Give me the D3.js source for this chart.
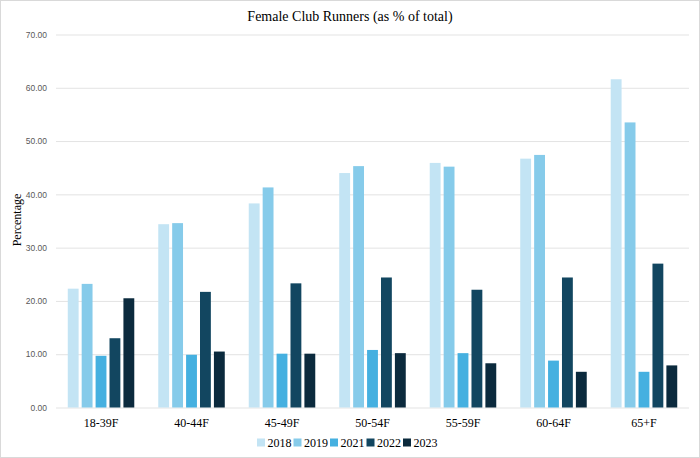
<!DOCTYPE html>
<html>
<head>
<meta charset="utf-8">
<script src="https://cdn.jsdelivr.net/npm/d3@7"></script>
<style>
  body { margin: 0; background: #fff; }
</style>
</head>
<body>
<div id="chart"></div>
<script>
// data
var categories = ["18-39F", "40-44F", "45-49F", "50-54F", "55-59F", "60-64F", "65+F"];
var years = ["2018", "2019", "2021", "2022", "2023"];
var v2018 = [22.3, 34.4, 38.3, 44.0, 45.9, 46.7, 61.6];
var v2019 = [23.2, 34.6, 41.3, 45.3, 45.2, 47.4, 53.5];
var v2021 = [9.7, 9.9, 10.1, 10.8, 10.2, 8.8, 6.7];
var v2022 = [13.0, 21.7, 23.3, 24.4, 22.1, 24.4, 27.0];
var v2023 = [20.5, 10.5, 10.1, 10.2, 8.3, 6.7, 7.9];
var yTicks = [0, 10, 20, 30, 40, 50, 60, 70];
var colors = ["#c3e4f4", "#86cbea", "#45b0e0", "#124660", "#0b2a3d"];

var series = [v2018, v2019, v2021, v2022, v2023];

var width = 700, height = 458;
var margin = {top: 34.5, right: 11, bottom: 50.5, left: 56};

var svg = d3.select("#chart").append("svg")
  .attr("width", width)
  .attr("height", height);

svg.append("rect")
  .attr("x", 0.5).attr("y", 0.5)
  .attr("width", width - 1).attr("height", height - 1)
  .attr("fill", "#fff")
  .attr("stroke", "#d9d9d9");

var x0 = d3.scaleBand()
  .domain(categories)
  .range([margin.left, width - margin.right])
  .paddingInner(0.265)
  .paddingOuter(0.13);

var x1 = d3.scaleBand()
  .domain(years)
  .range([0, x0.bandwidth()])
  .paddingInner(0.22);

var y = d3.scaleLinear()
  .domain([0, 70])
  .range([height - margin.bottom, margin.top]);

// gridlines + tick labels
var yAxis = d3.axisLeft(y)
  .tickValues(yTicks)
  .tickSize(-(width - margin.right - margin.left))
  .tickPadding(9)
  .tickFormat(d3.format(".2f"));

var gy = svg.append("g")
  .attr("transform", "translate(" + margin.left + ",0)")
  .call(yAxis);
gy.select(".domain").remove();
gy.selectAll(".tick line").attr("stroke", "#e3e3e3").attr("stroke-width", 1);
gy.selectAll(".tick text")
  .attr("fill", "#595959")
  .attr("font-family", "Liberation Sans, Arial, sans-serif")
  .attr("font-size", "8.5px");

// bars
var groups = svg.append("g").selectAll("g")
  .data(categories)
  .enter()
  .append("g")
  .attr("transform", function (d) { return "translate(" + x0(d) + ",0)"; });

groups.selectAll("rect")
  .data(function (d, i) {
    return years.map(function (yr, j) {
      return {year: yr, value: series[j][i], color: colors[j]};
    });
  })
  .enter()
  .append("rect")
  .attr("x", function (d) { return x1(d.year); })
  .attr("y", function (d) { return y(d.value); })
  .attr("width", x1.bandwidth())
  .attr("height", function (d) { return y(0) - y(d.value); })
  .attr("fill", function (d) { return d.color; });

// category labels
var xAxis = d3.axisBottom(x0).tickSize(0).tickPadding(11);
var gx = svg.append("g")
  .attr("transform", "translate(0," + y(0) + ")")
  .call(xAxis);
gx.select(".domain").remove();
gx.selectAll(".tick text")
  .attr("fill", "#000")
  .attr("font-family", "Liberation Serif, Times New Roman, serif")
  .attr("font-size", "12px");

// title
svg.append("text")
  .attr("x", width / 2)
  .attr("y", 21)
  .attr("text-anchor", "middle")
  .attr("font-family", "Liberation Serif, Times New Roman, serif")
  .attr("font-size", "14px")
  .attr("fill", "#000")
  .text("Female Club Runners (as % of total)");

// y label
svg.append("text")
  .attr("transform", "translate(21,220) rotate(-90)")
  .attr("text-anchor", "middle")
  .attr("font-family", "Liberation Serif, Times New Roman, serif")
  .attr("font-size", "12px")
  .attr("fill", "#000")
  .text("Percentage");

// legend
var legend = svg.append("g")
  .attr("transform", "translate(257,443)");
var item = legend.selectAll("g")
  .data(years)
  .enter()
  .append("g")
  .attr("transform", function (d, i) { return "translate(" + (i * 36.5) + ",0)"; });
item.append("rect")
  .attr("x", 0).attr("y", -4.5)
  .attr("width", 8).attr("height", 8)
  .attr("fill", function (d, i) { return colors[i]; });
item.append("text")
  .attr("x", 10.5)
  .attr("y", 4)
  .attr("font-family", "Liberation Serif, Times New Roman, serif")
  .attr("font-size", "12px")
  .attr("fill", "#000")
  .text(function (d) { return d; });
</script>
</body>
</html>
